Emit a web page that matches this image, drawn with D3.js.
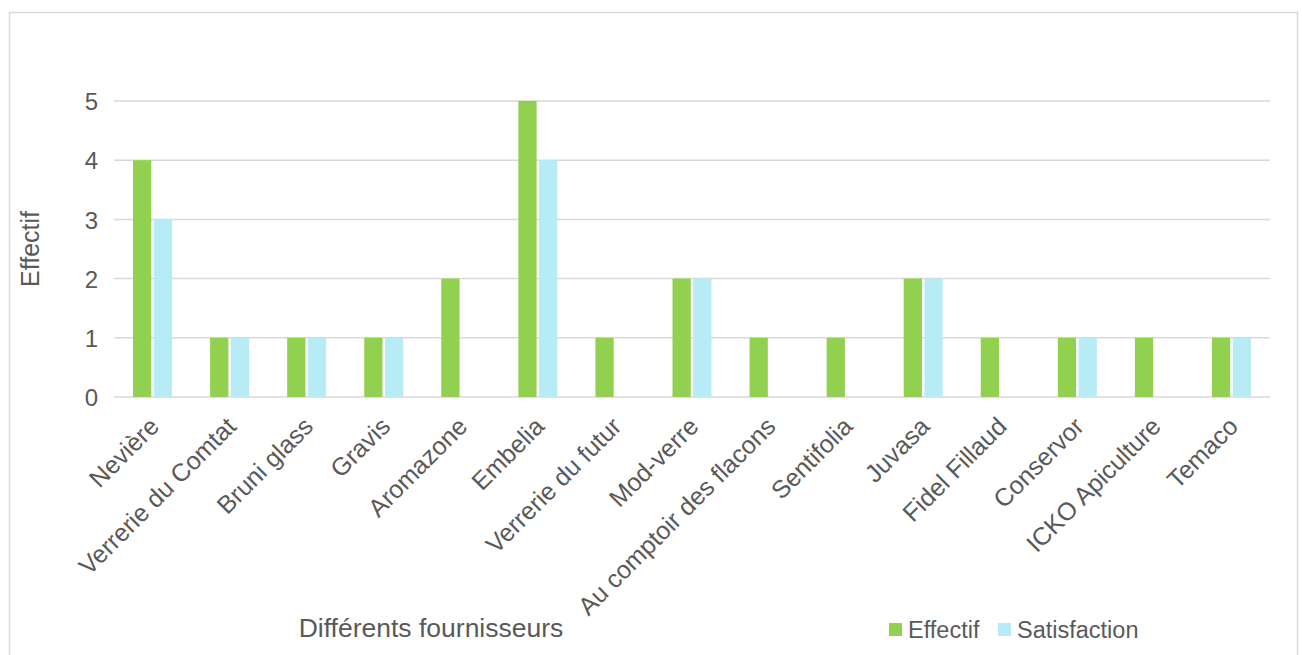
<!DOCTYPE html>
<html><head><meta charset="utf-8">
<script src="https://cdn.jsdelivr.net/npm/d3@7"></script>
<style>body{margin:0;background:#fff;} svg{display:block;font-family:"Liberation Sans", Arial, sans-serif;}</style>
</head><body>
<svg id="c" width="1302" height="655"></svg>
<script>
const categories = ["Nevière","Verrerie du Comtat","Bruni glass","Gravis","Aromazone","Embelia","Verrerie du futur","Mod-verre","Au comptoir des flacons","Sentifolia","Juvasa","Fidel Fillaud","Conservor","ICKO Apiculture","Temaco"];
const effectif = [4,1,1,1,2,5,1,2,1,1,2,1,1,1,1];
const satisfaction = [3,1,1,1,0,4,0,2,0,0,2,0,1,0,1];
const yTicks = [0,1,2,3,4,5];
const seriesNames = ["Effectif","Satisfaction"];
const colors = ["#92d050","#b7ebf5"];

const svg = d3.select("#c");
const txt = "#595959";
svg.append("rect").attr("x",9.5).attr("y",12.5).attr("width",1288).attr("height",660).attr("fill","#fff").attr("stroke","#d9d9d9").attr("stroke-width",1.5);

const x0 = d3.scaleBand().domain(categories).range([114,1270]);
const x1 = d3.scaleBand().domain(seriesNames).range([-19.5,19.5]).paddingInner(0.12);
const y = d3.scaleLinear().domain([0,5]).range([397,101]);

const g = svg.append("g");
g.selectAll("line.grid").data(yTicks).join("line")
  .attr("x1",114).attr("x2",1270).attr("y1",d=>y(d)).attr("y2",d=>y(d))
  .attr("stroke","#d9d9d9").attr("stroke-width",1.5);

const yAxis = d3.axisLeft(y).tickValues(yTicks).tickSize(0).tickPadding(0).tickFormat(d3.format("d"));
const ya = svg.append("g").attr("transform","translate(98,0)").call(yAxis);
ya.select(".domain").remove();
ya.selectAll("text").attr("fill",txt).style("font-size","24px").attr("dy","0.36em");

const data = [effectif, satisfaction];
data.forEach((vals,si)=>{
  g.selectAll("rect.s"+si).data(vals).join("rect")
    .attr("x",(d,i)=>x0(categories[i])+x0.bandwidth()/2 + x1(seriesNames[si]))
    .attr("width",x1.bandwidth())
    .attr("y",d=>y(d)).attr("height",d=>y(0)-y(d))
    .attr("fill",colors[si]);
});

const xAxis = d3.axisBottom(x0).tickSize(0).tickPadding(0);
const xa = svg.append("g").attr("transform","translate(0,397)").call(xAxis);
xa.select(".domain").remove();
xa.selectAll("text").attr("fill",txt).style("font-size","25px")
  .attr("text-anchor","end").attr("dy",null).attr("y",0)
  .attr("transform","translate(8,31) rotate(-45)");

svg.append("text").attr("transform","translate(39,249) rotate(-90)").attr("text-anchor","middle")
  .attr("fill",txt).style("font-size","25px").text("Effectif");
svg.append("text").attr("x",431).attr("y",637).attr("text-anchor","middle")
  .attr("fill",txt).style("font-size","26.5px").text("Différents fournisseurs");

const leg = [{n:"Effectif",x:889},{n:"Satisfaction",x:998}];
leg.forEach((l,i)=>{
  svg.append("rect").attr("x",l.x).attr("y",623).attr("width",13).attr("height",13).attr("fill",colors[i]);
  svg.append("text").attr("x",l.x+19).attr("y",638).attr("fill",txt).style("font-size","23.5px").text(l.n);
});
</script>
</body></html>
